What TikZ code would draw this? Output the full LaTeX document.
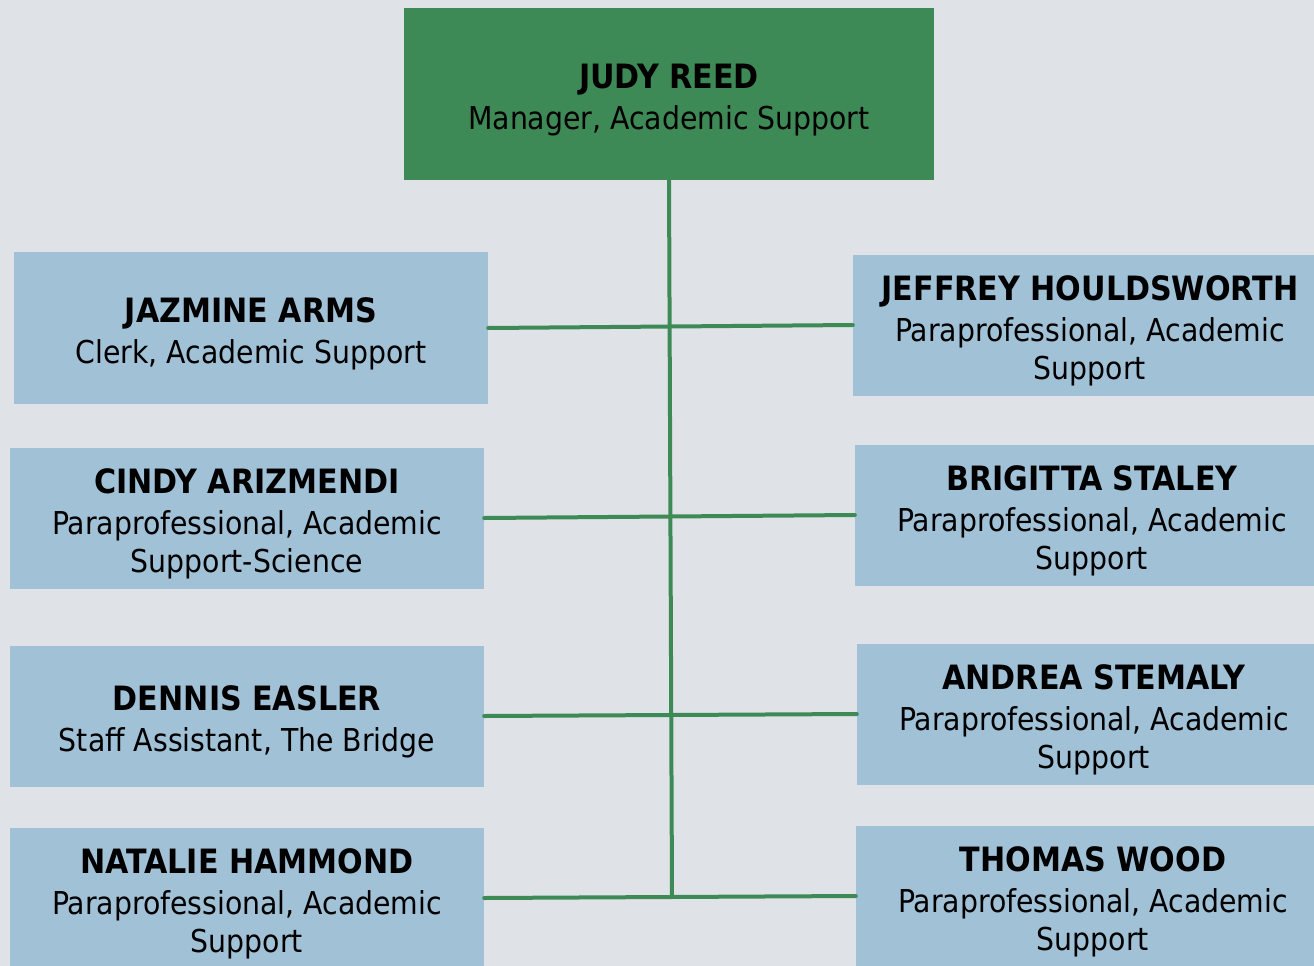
\documentclass[tikz,border=0pt]{standalone}
\usepackage{fontspec}
\setmainfont{DejaVu Sans Condensed}
\usepackage{xcolor}
\usepackage{tikz}
\definecolor{paper}{HTML}{DFE3E7}
\definecolor{leaf}{HTML}{3E8A57}
\definecolor{sky}{HTML}{A1C1D7}
\newcommand{\who}[1]{{\fontsize{33.5}{40}\selectfont\bfseries\rule{0pt}{36pt}#1}\\[3pt]}
\tikzset{
  card/.style={rectangle, inner sep=0pt, align=center, text=black,
    font=\fontsize{31.5}{38}\selectfont},
  boss/.style={card, fill=leaf, minimum width=530pt, minimum height=171pt},
  staff/.style={card, fill=sky, minimum width=474pt, minimum height=141pt},
  link/.style={draw=leaf, line width=4pt, line cap=round},
}

\begin{document}
\begin{tikzpicture}[x=1pt, y=-1pt]
  \fill[paper] (0,0) rectangle (1314,966);
  \useasboundingbox (0,0) rectangle (1314,966);
  \clip (0,0) rectangle (1314,966);
  % top of the chart
  \node[boss] (judy) at (669,94) {\who{JUDY REED}Manager, Academic Support};
  % left column
  \node[staff, minimum height=152pt] (jazmine) at (251,328) {\who{JAZMINE ARMS}Clerk, Academic Support};
  \node[staff] (cindy) at (247,518) {\who{CINDY ARIZMENDI}Paraprofessional, Academic\\Support-Science};
  \node[staff] (dennis) at (247,716) {\who{DENNIS EASLER}Staff Assistant, The Bridge};
  \node[staff] (natalie) at (247,898) {\who{NATALIE HAMMOND}Paraprofessional, Academic\\Support};
  % right column
  \node[staff] (jeffrey) at (1090,325) {\who{JEFFREY HOULDSWORTH}Paraprofessional, Academic\\Support};
  \node[staff] (brigitta) at (1092,515) {\who{BRIGITTA STALEY}Paraprofessional, Academic\\Support};
  \node[staff] (andrea) at (1094,714) {\who{ANDREA STEMALY}Paraprofessional, Academic\\Support};
  \node[staff] (thomas) at (1093,896) {\who{THOMAS WOOD}Paraprofessional, Academic\\Support};
  % connectors
  \coordinate (foot) at (672,897);
  \draw[link] (judy.south) -- (foot);
  \draw[link] (jazmine.east) -- (jeffrey.west);
  \draw[link] (cindy.east) -- (brigitta.west);
  \draw[link] (dennis.east) -- (andrea.west);
  \draw[link] (natalie.east) -- (thomas.west);
\end{tikzpicture}
\end{document}
